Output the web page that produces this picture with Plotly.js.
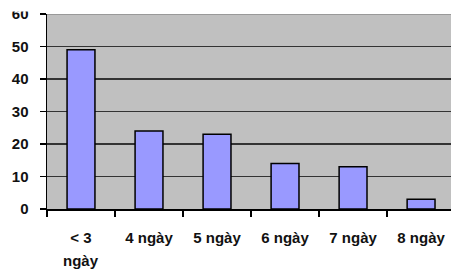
<!DOCTYPE html>
<html>
<head>
<meta charset="utf-8">
<script src="https://cdn.plot.ly/plotly-3.0.1.min.js"></script>
<style>html,body{margin:0;padding:0;background:#fff;}#chart{width:451px;height:273px;}</style>
</head>
<body>
<div id="chart"></div>
<script>
const categories = ['< 3 ngày', '4 ngày', '5 ngày', '6 ngày', '7 ngày', '8 ngày'];
const tickLabels = ['&lt; 3', '4 ngày', '5 ngày', '6 ngày', '7 ngày', '8 ngày'];
const wrappedLabel = 'ngày';   // second line of the first category label
const values = [49, 24, 23, 14, 13, 3];
const yTicks = [0, 10, 20, 30, 40, 50, 60];

const fontFam = 'Liberation Sans, Arial, sans-serif';
const tf = {size: 15, family: fontFam, weight: 'bold', color: '#111'};

Plotly.newPlot('chart', [{
  type: 'bar',
  x: categories,
  y: values,
  marker: {color: '#9999ff', line: {color: '#000000', width: 1.5}},
  hoverinfo: 'none'
}], {
  width: 451,
  height: 273,
  margin: {l: 47, r: 0, t: 14, b: 64, pad: 0},
  paper_bgcolor: '#ffffff',
  plot_bgcolor: '#c0c0c0',
  bargap: 0.59,
  showlegend: false,
  font: {family: fontFam, color: '#111111'},
  xaxis: {
    type: 'category',
    range: [-0.5, 5.44],
    tickmode: 'array',
    tickvals: categories,
    ticktext: tickLabels,
    tickson: 'boundaries',
    ticks: 'outside',
    ticklen: 6,
    tickwidth: 1.5,
    tickcolor: '#000',
    showgrid: false,
    showline: true,
    linecolor: '#000',
    linewidth: 1.5,
    ticklabelstandoff: 14,
    tickfont: tf
  },
  yaxis: {
    range: [0, 60],
    tickmode: 'array',
    tickvals: yTicks,
    ticks: 'outside',
    ticklen: 6,
    tickwidth: 1.5,
    tickcolor: '#000',
    showline: true,
    linecolor: '#000',
    linewidth: 1.5,
    showgrid: true,
    gridcolor: '#333333',
    gridwidth: 1.5,
    zeroline: false,
    ticklabelstandoff: 8,
    tickfont: tf
  },
  annotations: [{
    xref: 'x', yref: 'paper', x: categories[0], y: -0.264,
    text: wrappedLabel, showarrow: false, xanchor: 'center', yanchor: 'middle',
    font: tf
  }],
  shapes: [{
    type: 'line', xref: 'paper', yref: 'y', x0: 0, x1: 1, y0: 60, y1: 60,
    line: {color: '#999999', width: 2}, layer: 'above'
  }, {
    type: 'rect', xref: 'paper', yref: 'paper', x0: -0.1163, x1: -0.03, y0: 1.013, y1: 1.08,
    fillcolor: '#ffffff', line: {width: 0}, layer: 'above'
  }]
}, {staticPlot: true, displayModeBar: false});
</script>
</body>
</html>
